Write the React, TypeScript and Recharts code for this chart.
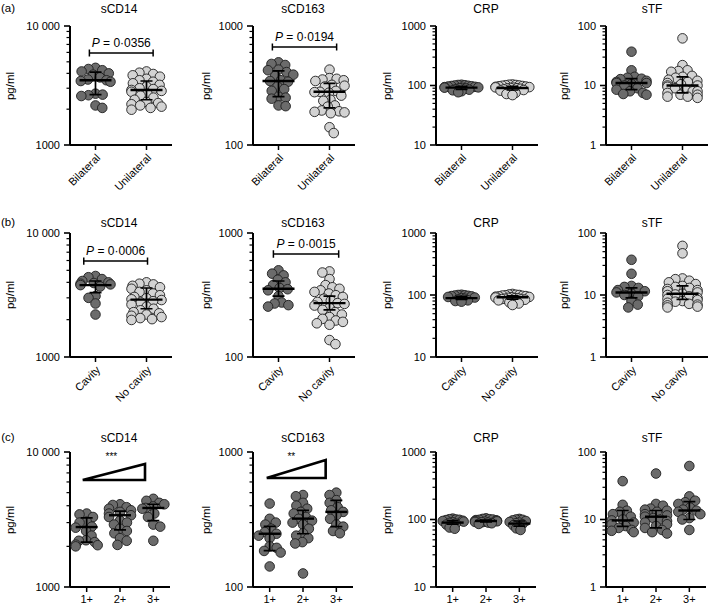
import { ScatterChart, Scatter, XAxis, YAxis } from 'recharts';

const FONT = '"Liberation Sans", Arial, Helvetica, sans-serif';
const DARK = '#6b6b6b';
const LIGHT = '#d3d3d3';
const EDGE = '#1e1e1e';

const catsA = ['Bilateral', 'Unilateral'];
const catsB = ['Cavity', 'No cavity'];
const catsC = ['1+', '2+', '3+'];

// (a) bilateral vs unilateral
const cd14Bilateral = [4450, 4350, 4250, 4150, 4000, 3900, 3700, 3550, 3500, 3450, 3400, 2700, 2650, 2620, 2580, 2150, 2050];
const cd14Unilateral = [4150, 4050, 3950, 3850, 3750, 3600, 3500, 3400, 3300, 3200, 3100, 3000, 2950, 2900, 2850, 2800, 2700, 2600, 2500, 2400, 2300, 2250, 2200, 2150, 2100, 2050, 1980];
const cd163Bilateral = [495, 480, 470, 430, 425, 410, 390, 380, 350, 345, 340, 310, 295, 285, 255, 250, 245, 215, 212];
const cd163Unilateral = [430, 365, 360, 355, 350, 345, 320, 315, 310, 285, 280, 278, 275, 260, 240, 235, 215, 210, 195, 192, 190, 188, 185, 141, 126];
const crpBilateral = [103, 102, 101, 100, 99, 98, 97, 96, 95, 94, 93, 92, 91, 90, 89, 87, 85, 83, 80, 77];
const crpUnilateral = [104, 103, 102, 101, 100, 99, 98, 97, 96, 95, 94, 93, 92, 91, 90, 89, 88, 86, 84, 82, 80, 78, 75, 72, 69];
const stfBilateral = [37, 18, 14, 13.5, 13, 12.8, 12, 11.5, 11, 11, 10.5, 10, 9, 8.5, 8, 7.5, 7.2, 7];
const stfUnilateral = [62, 22, 18, 17.5, 17, 14.5, 14, 13.5, 12.5, 12, 11.5, 11, 10.5, 10, 10, 9.5, 9, 8.5, 8, 8, 7.5, 7, 7, 6.5, 6.5, 6.2];

// (b) cavity vs no cavity
const cd14Cavity = [4500, 4400, 4250, 4100, 4000, 3950, 3900, 3850, 3800, 3700, 3100, 3000, 2700, 2200];
const cd14NoCavity = [4000, 3900, 3850, 3750, 3650, 3550, 3450, 3350, 3250, 3150, 3050, 2980, 2920, 2880, 2820, 2750, 2650, 2550, 2450, 2380, 2300, 2250, 2200, 2150, 2100, 2060, 2020, 1990];
const cd163Cavity = [500, 470, 455, 420, 400, 380, 360, 352, 345, 310, 275, 270, 262, 255];
const cd163NoCavity = [490, 480, 425, 380, 365, 355, 345, 335, 325, 315, 305, 295, 285, 278, 272, 268, 260, 250, 240, 230, 220, 210, 203, 197, 192, 187, 182, 137, 127];
const crpCavity = [101, 100, 99, 98, 97, 96, 95, 93, 91, 89, 87, 85, 82, 80, 78];
const crpNoCavity = [104, 102, 101, 100, 99, 98, 97, 96, 95, 94, 93, 92, 91, 90, 89, 88, 87, 86, 85, 84, 82, 80, 78, 76, 73, 69];
const stfCavity = [37, 22, 14, 13.5, 13, 12, 11.5, 11, 10.5, 10, 9.5, 8, 7, 6.3];
const stfNoCavity = [62, 47, 18.5, 18, 17, 16, 15, 14, 13.5, 13, 12.5, 12, 11.5, 11, 10.5, 10.2, 10, 9.5, 9, 8.7, 8.3, 8, 7.8, 7.5, 7.2, 7, 6.8, 6.5, 6.3];

// (c) grade 1+ / 2+ / 3+
const cd14Grade1 = [3500, 3450, 3300, 3050, 3000, 2800, 2750, 2600, 2400, 2220, 2200, 2150, 2060, 2040, 2000];
const cd14Grade2 = [4100, 4050, 3900, 3800, 3700, 3600, 3500, 3400, 3300, 3100, 3000, 2900, 2700, 2600, 2500, 2300, 2200, 2050];
const cd14Grade3 = [4500, 4350, 4200, 4100, 3950, 3850, 3800, 3500, 3300, 2900, 2800, 2200];
const cd163Grade1 = [415, 320, 300, 290, 270, 255, 248, 240, 230, 200, 195, 185, 180, 142];
const cd163Grade2 = [480, 470, 420, 400, 380, 360, 350, 330, 320, 310, 300, 290, 270, 250, 240, 230, 215, 210, 126];
const cd163Grade3 = [500, 480, 440, 420, 390, 370, 360, 340, 320, 290, 280, 260, 250];
const crpGrade1 = [103, 101, 100, 99, 98, 96, 95, 93, 91, 89, 87, 84, 80, 76, 73];
const crpGrade2 = [104, 102, 101, 100, 99, 98, 97, 96, 95, 94, 93, 92, 91, 90, 88, 86];
const crpGrade3 = [102, 100, 99, 97, 95, 92, 90, 88, 85, 82, 78, 74, 70];
const stfGrade1 = [37, 16.5, 13.5, 13, 12, 11, 10, 9.7, 9, 8.5, 8, 7.5, 7, 6.8, 6.5];
const stfGrade2 = [48, 17, 16, 14.5, 14, 13.5, 13, 12, 11.5, 11, 10.5, 10, 9.5, 9, 8.5, 8, 7.5, 7, 6.5, 6.2];
const stfGrade3 = [62, 22, 19, 18, 17, 15, 14, 13.5, 13, 12, 10.5, 10, 7];

// median, lower, upper per group
type Stat = [number, number, number];
const cd14StatsA: Stat[] = [[3500, 2650, 4100], [2900, 2400, 3450]];
const cd163StatsA: Stat[] = [[345, 255, 420], [280, 205, 330]];
const crpStatsA: Stat[] = [[92, 86, 97], [91, 84, 97]];
const stfStatsA: Stat[] = [[11, 8.5, 13], [10, 7.5, 14]];
const cd14StatsB: Stat[] = [[3800, 3300, 4100], [2900, 2450, 3600]];
const cd163StatsB: Stat[] = [[355, 310, 410], [272, 240, 310]];
const crpStatsB: Stat[] = [[89, 85, 95], [92, 86, 97]];
const stfStatsB: Stat[] = [[11, 9, 13], [10.5, 8.5, 14]];
const cd14StatsC: Stat[] = [[2780, 2150, 3250], [3400, 2650, 3650], [3850, 3100, 4100]];
const cd163StatsC: Stat[] = [[248, 186, 281], [321, 248, 370], [360, 280, 438]];
const crpStatsC: Stat[] = [[90, 85, 96], [95, 92, 98], [87, 80, 95]];
const stfStatsC: Stat[] = [[9.7, 7.9, 13.6], [11, 7.5, 13.6], [13.6, 10, 18.4]];

const pValuesA = ['0·0356', '0·0194'];
const pValuesB = ['0·0006', '0·0015'];

const COL_X = [70, 253, 436, 606];
const ROWS = [
  { top: 26, h: 119 },
  { top: 233, h: 124 },
  { top: 452, h: 135 },
];
const TITLE_X = [119, 303, 486, 652];
const TITLE_Y = [9, 223, 438];
const YLABEL_DIST = [60, 47, 49, 42];

type PanelDef = {
  col: number;
  row: number;
  title: string;
  domain: [number, number];
  cats: string[];
  groups: number[][];
  stats: Stat[];
  light: boolean[];
  dense?: boolean;
  bracket?: { x0: number; x1: number; y: number; p: string };
  wedge?: { x0: number; x1: number; yb: number; yt: number; stars: string; sx: number; sy: number };
};

const PANELS: PanelDef[] = [
  { col: 0, row: 0, title: 'sCD14', domain: [1000, 10000], cats: catsA, groups: [cd14Bilateral, cd14Unilateral], stats: cd14StatsA, light: [false, true], bracket: { x0: -0.12, x1: 1.13, y: 5930, p: pValuesA[0] } },
  { col: 1, row: 0, title: 'sCD163', domain: [100, 1000], cats: catsA, groups: [cd163Bilateral, cd163Unilateral], stats: cd163StatsA, light: [false, true], bracket: { x0: -0.12, x1: 1.14, y: 667, p: pValuesA[1] } },
  { col: 2, row: 0, title: 'CRP', domain: [10, 1000], cats: catsA, groups: [crpBilateral, crpUnilateral], stats: crpStatsA, light: [false, true], dense: true },
  { col: 3, row: 0, title: 'sTF', domain: [1, 100], cats: catsA, groups: [stfBilateral, stfUnilateral], stats: stfStatsA, light: [false, true] },
  { col: 0, row: 1, title: 'sCD14', domain: [1000, 10000], cats: catsB, groups: [cd14Cavity, cd14NoCavity], stats: cd14StatsB, light: [false, true], bracket: { x0: -0.23, x1: 1.02, y: 5940, p: pValuesB[0] } },
  { col: 1, row: 1, title: 'sCD163', domain: [100, 1000], cats: catsB, groups: [cd163Cavity, cd163NoCavity], stats: cd163StatsB, light: [false, true], bracket: { x0: -0.1, x1: 1.18, y: 677, p: pValuesB[1] } },
  { col: 2, row: 1, title: 'CRP', domain: [10, 1000], cats: catsB, groups: [crpCavity, crpNoCavity], stats: crpStatsB, light: [false, true], dense: true },
  { col: 3, row: 1, title: 'sTF', domain: [1, 100], cats: catsB, groups: [stfCavity, stfNoCavity], stats: stfStatsB, light: [false, true] },
  { col: 0, row: 2, title: 'sCD14', domain: [1000, 10000], cats: catsC, groups: [cd14Grade1, cd14Grade2, cd14Grade3], stats: cd14StatsC, light: [false, false, false], wedge: { x0: -0.12, x1: 1.75, yb: 6210, yt: 8150, stars: '***', sx: 0.74, sy: 9300 } },
  { col: 1, row: 2, title: 'sCD163', domain: [100, 1000], cats: catsC, groups: [cd163Grade1, cd163Grade2, cd163Grade3], stats: cd163StatsC, light: [false, false, false], wedge: { x0: -0.09, x1: 1.68, yb: 641, yt: 873, stars: '**', sx: 0.65, sy: 930 } },
  { col: 2, row: 2, title: 'CRP', domain: [10, 1000], cats: catsC, groups: [crpGrade1, crpGrade2, crpGrade3], stats: crpStatsC, light: [false, false, false], dense: true },
  { col: 3, row: 2, title: 'sTF', domain: [1, 100], cats: catsC, groups: [stfGrade1, stfGrade2, stfGrade3], stats: stfStatsC, light: [false, false, false] },
];

function logTicks(lo: number, hi: number) {
  const out: number[] = [];
  for (let d = lo; d < hi; d *= 10) for (let k = 1; k < 10; k++) out.push(d * k);
  out.push(hi);
  return out;
}

// simple beeswarm: pixel offsets so dots don't pile up
function swarm(vals: number[], lo: number, hi: number, h: number, dist: number, maxHalf: number) {
  const L = Math.log10(hi) - Math.log10(lo);
  const ys = vals.map((v) => (h * (Math.log10(hi) - Math.log10(v))) / L);
  const order = ys.map((_, i) => i).sort((a, b) => ys[a] - ys[b]);
  const placed: { x: number; y: number }[] = [];
  const out = vals.map(() => 0);
  let flip = 1;
  for (const i of order) {
    const y = ys[i];
    const blocks: [number, number][] = [];
    const cands = [0];
    for (const p of placed) {
      const dy = Math.abs(p.y - y);
      if (dy < dist) {
        const w = Math.sqrt(dist * dist - dy * dy);
        blocks.push([p.x - w, p.x + w]);
        cands.push(p.x - w, p.x + w);
      }
    }
    let best = 0;
    let bestAbs = Infinity;
    for (const c of cands) {
      if (blocks.some(([a, b]) => c > a + 1e-6 && c < b - 1e-6)) continue;
      const s = Math.abs(c) + (Math.sign(c) === flip ? 0 : 1e-3);
      if (s < bestAbs) {
        bestAbs = s;
        best = c;
      }
    }
    flip = -flip;
    best = Math.max(-maxHalf, Math.min(maxHalf, best));
    placed.push({ x: best, y });
    out[i] = best;
  }
  return out;
}

function LogTick(props: any) {
  const { x, y, payload } = props;
  const v = payload.value as number;
  const ax = x + 8;
  const lg = Math.log10(v);
  const major = Math.abs(lg - Math.round(lg)) < 1e-6;
  return (
    <g>
      <line x1={ax - (major ? 6 : 3.5)} x2={ax} y1={y} y2={y} stroke="#000" strokeWidth={major ? 1.6 : 1.2} />
      {major && (
        <text x={ax - 10} y={y} dy="0.36em" textAnchor="end" fontSize={11} fill="#000" fontFamily={FONT}>
          {v === 10000 ? '10 000' : v}
        </text>
      )}
    </g>
  );
}

const noDot = () => <g />;

function Panel({ d }: { d: PanelDef }) {
  const axisX = COL_X[d.col];
  const { top, h } = ROWS[d.row];
  const n = d.cats.length;
  const plotW = n === 3 ? 100 : 102;
  const unitPx = plotW / n;
  const rotate = n === 2;
  const YW = 50;
  const T = 14;
  const R = 4;
  const XH = rotate ? 54 : 24;
  const ticks = logTicks(d.domain[0], d.domain[1]);
  const dist = d.dense ? 3.4 : 7.2;
  const maxHalf = n === 3 ? 11 : d.dense ? 17 : 15;
  const medHalf = (n === 3 ? 11 : 16) / unitPx;
  const capHalf = 6 / unitPx;

  const swarms = d.groups.map((vals, gi) => {
    const offs = swarm(vals, d.domain[0], d.domain[1], h, dist, maxHalf);
    return vals.map((v, k) => ({ x: gi + offs[k] / unitPx, y: v }));
  });

  const extra: any[] = [];
  if (d.bracket) {
    const b = d.bracket;
    const f = 1.07;
    extra.push(
      <Scatter key="br" isAnimationActive={false} shape={noDot} line={{ stroke: '#000', strokeWidth: 1.5 }}
        data={[{ x: b.x0, y: b.y * f }, { x: b.x0, y: b.y / f }, { x: b.x0, y: b.y }, { x: b.x1, y: b.y }, { x: b.x1, y: b.y * f }, { x: b.x1, y: b.y / f }]} />,
      <Scatter key="pv" isAnimationActive={false} data={[{ x: (b.x0 + b.x1) / 2, y: b.y }]}
        shape={(p: any) => (
          <text x={p.cx} y={p.cy - 6} textAnchor="middle" fontSize={12} fill="#000" fontFamily={FONT}>
            <tspan fontStyle="italic">P</tspan> = {b.p}
          </text>
        )} />
    );
  }
  if (d.wedge) {
    const w = d.wedge;
    extra.push(
      <Scatter key="wg" isAnimationActive={false} shape={noDot} line={{ stroke: '#000', strokeWidth: 2.6, fill: 'none', strokeLinejoin: 'miter' }}
        data={[{ x: w.x0, y: w.yb }, { x: w.x1, y: w.yt }, { x: w.x1, y: w.yb }, { x: w.x0, y: w.yb }]} />,
      <Scatter key="st" isAnimationActive={false} data={[{ x: w.sx, y: w.sy }]}
        shape={(p: any) => (
          <text x={p.cx} y={p.cy + 4} textAnchor="middle" fontSize={10} fill="#000" fontFamily={FONT}>{w.stars}</text>
        )} />
    );
  }

  return (
    <div style={{ position: 'absolute', left: axisX - YW, top: top - T }}>
      <ScatterChart width={YW + plotW + R} height={T + h + XH} margin={{ top: T, right: R, bottom: 0, left: 0 }}>
        <XAxis
          type="number"
          dataKey="x"
          domain={[-0.5, n - 0.5]}
          ticks={d.cats.map((_, i) => i)}
          interval={0}
          tickFormatter={(i: number) => d.cats[i] ?? ''}
          height={XH}
          axisLine={{ stroke: '#000', strokeWidth: 2 }}
          tickLine={{ stroke: '#000', strokeWidth: 1.5 }}
          tickSize={5}
          tickMargin={3}
          angle={rotate ? -45 : 0}
          textAnchor={rotate ? 'end' : 'middle'}
          tick={{ fontSize: 11, fill: '#000', fontFamily: FONT }}
        />
        <YAxis
          type="number"
          dataKey="y"
          scale="log"
          domain={d.domain}
          allowDataOverflow
          ticks={ticks}
          interval={0}
          width={YW}
          axisLine={{ stroke: '#000', strokeWidth: 2 }}
          tickLine={false}
          tickSize={6}
          tickMargin={2}
          tick={<LogTick />}
        />
        {swarms.map((pts, gi) => (
          <Scatter key={'g' + gi} data={pts} isAnimationActive={false}
            shape={(p: any) => <circle cx={p.cx} cy={p.cy} r={4.8} fill={d.light[gi] ? LIGHT : DARK} stroke={EDGE} strokeWidth={0.9} />} />
        ))}
        {d.stats.map(([m], gi) => (
          <Scatter key={'m' + gi} isAnimationActive={false} shape={noDot} line={{ stroke: '#000', strokeWidth: 2.4 }}
            data={[{ x: gi - medHalf, y: m }, { x: gi + medHalf, y: m }]} />
        ))}
        {d.stats.map(([, lo, hi], gi) => (
          <Scatter key={'e' + gi} isAnimationActive={false} shape={noDot} line={{ stroke: '#000', strokeWidth: 1.7 }}
            data={[{ x: gi - capHalf, y: hi }, { x: gi + capHalf, y: hi }, { x: gi, y: hi }, { x: gi, y: lo }, { x: gi - capHalf, y: lo }, { x: gi + capHalf, y: lo }]} />
        ))}
        {extra}
      </ScatterChart>
    </div>
  );
}

const abs = (x: number, y: number): React.CSSProperties => ({
  position: 'absolute',
  left: x,
  top: y,
  transform: 'translate(-50%, -50%)',
  whiteSpace: 'nowrap',
});

export default function App() {
  return (
    <div style={{ position: 'absolute', left: 0, top: 0, width: 709, height: 606, overflow: 'hidden', background: '#fff', fontFamily: FONT, color: '#000' }}>
      {PANELS.map((d, i) => (
        <Panel key={i} d={d} />
      ))}
      {PANELS.map((d, i) => (
        <div key={'t' + i} style={{ ...abs(TITLE_X[d.col], TITLE_Y[d.row]), fontSize: 12 }}>{d.title}</div>
      ))}
      {PANELS.map((d, i) => (
        <div key={'y' + i} style={{ ...abs(COL_X[d.col] - YLABEL_DIST[d.col], ROWS[d.row].top + ROWS[d.row].h / 2), transform: 'translate(-50%, -50%) rotate(-90deg)', fontSize: 11.5 }}>
          pg/ml
        </div>
      ))}
      {['(a)', '(b)', '(c)'].map((t, i) => (
        <div key={t} style={{ ...abs(8, TITLE_Y[i] - 1), fontSize: 11.5 }}>{t}</div>
      ))}
    </div>
  );
}
